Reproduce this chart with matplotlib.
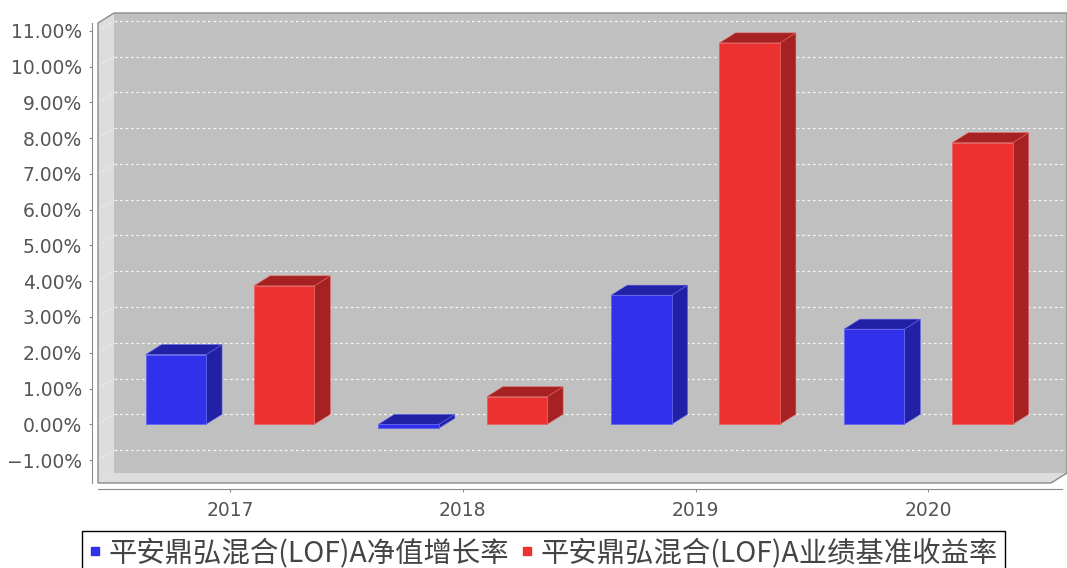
import numpy as np
import matplotlib.pyplot as plt
from matplotlib.patches import Polygon
from matplotlib.lines import Line2D
from matplotlib.ticker import FuncFormatter

years = ["2017", "2018", "2019", "2020"]
nav_growth = [1.95, -0.11, 3.61, 2.66]    # 净值增长率 (%)
benchmark = [3.87, 0.77, 10.66, 7.87]     # 业绩基准收益率 (%)
series_names = ["平安鼎弘混合(LOF)A净值增长率", "平安鼎弘混合(LOF)A业绩基准收益率"]
yticks = np.arange(-1, 12)

FRONT = ["#3131ec", "#ec3131"]
DARK = ["#2121a6", "#a62121"]
EDGE = ["#6464f0", "#e86060"]

W, H = 1067, 568
fig = plt.figure(figsize=(W / 100, H / 100), dpi=100)

# front plane of the 3D plot, in pixels
L, R, T, B = 98, 1051, 23, 483
ax = fig.add_axes([L / W, 1 - B / H, (R - L) / W, (B - T) / H])
x0, x1 = -0.567, 3.527
y0, y1 = -1.64, 11.216
ax.set_xlim(x0, x1)
ax.set_ylim(y0, y1)
ax.patch.set_visible(False)

# depth offset (16 px right, 10 px up) in data units
ddx = 16 * (x1 - x0) / (R - L)
ddy = 10 * (y1 - y0) / (B - T)

def poly(pts, **kw):
    ax.add_patch(Polygon(pts, closed=True, clip_on=False, **kw))

# walls
poly([(x0 + ddx, y0 + ddy), (x1 + ddx, y0 + ddy), (x1 + ddx, y1 + ddy), (x0 + ddx, y1 + ddy)],
     facecolor="#c0c0c0", edgecolor="none", zorder=0)
poly([(x0, y0), (x0, y1), (x0 + ddx, y1 + ddy), (x0 + ddx, y0 + ddy)],
     facecolor="#dddddd", edgecolor="none", zorder=0)
poly([(x0, y0), (x1, y0), (x1 + ddx, y0 + ddy), (x0 + ddx, y0 + ddy)],
     facecolor="#dddddd", edgecolor="none", zorder=0)

# grid on back wall and left wall
for v in yticks:
    ax.plot([x0 + ddx, x1 + ddx], [v + ddy, v + ddy], color="white", lw=0.9,
            ls=(0, (2.2, 2.2)), alpha=0.85, clip_on=False, zorder=1)
    ax.plot([x0, x0 + ddx], [v, v + ddy], color="white", lw=0.8,
            ls=(0, (2, 2)), alpha=0.5, clip_on=False, zorder=1)

# outline of the plot box
poly([(x0, y0), (x0, y1), (x0 + ddx, y1 + ddy), (x1 + ddx, y1 + ddy),
      (x1 + ddx, y0 + ddy), (x1, y0)],
     fill=False, edgecolor="#8a8a8a", lw=1.0, zorder=2)

# 3D bars
off, bw = 0.2326, 0.2594
for i, vals in enumerate([nav_growth, benchmark]):
    xs = np.arange(len(years)) + (2 * i - 1) * off
    ax.bar(xs, vals, bw, color=FRONT[i], edgecolor=EDGE[i], lw=0.6, zorder=4)
    for x, v in zip(xs, vals):
        xl, xr = x - bw / 2, x + bw / 2
        top, bot = max(v, 0), min(v, 0)
        poly([(xr, bot), (xr, top), (xr + ddx, top + ddy), (xr + ddx, bot + ddy)],
             facecolor=DARK[i], edgecolor=EDGE[i], lw=0.4, zorder=3)
        poly([(xl, top), (xr, top), (xr + ddx, top + ddy), (xl + ddx, top + ddy)],
             facecolor=DARK[i], edgecolor=EDGE[i], lw=0.4, zorder=3)

# axes
for s in ["top", "right"]:
    ax.spines[s].set_visible(False)
for s in ["left", "bottom"]:
    ax.spines[s].set_position(("outward", 4.3))
    ax.spines[s].set_color("#8a8a8a")
ax.spines["bottom"].set_bounds(x0, x1 + ddx * 0.7)
ax.set_xticks(np.arange(len(years)))
ax.set_xticklabels(years)
ax.set_yticks(yticks)
ax.yaxis.set_major_formatter(FuncFormatter(lambda v, p: f"{v:.2f}%".replace("-", "\u2212")))
ax.tick_params(direction="out", length=2.2, color="#8a8a8a", labelcolor="#555555",
               labelsize=13.5)
ax.tick_params(axis="y", pad=5)
ax.tick_params(axis="x", pad=6.5)

# legend
handles = [Line2D([], [], marker="s", ls="none", color=c, markersize=5.5) for c in FRONT]
leg = fig.legend(handles, series_names, loc="upper left", ncol=2,
                 bbox_to_anchor=(82 / W, 1 - 531 / H), frameon=True, fancybox=False,
                 framealpha=1, edgecolor="black", labelcolor="#444444",
                 prop={"family": ["Noto Sans CJK SC", "DejaVu Sans"], "size": 20.4},
                 handlelength=0.4, handletextpad=0.3, columnspacing=0.4,
                 borderpad=0.25, borderaxespad=0)
leg.get_frame().set_linewidth(1.0)

fig.savefig("out.png", dpi=100)
